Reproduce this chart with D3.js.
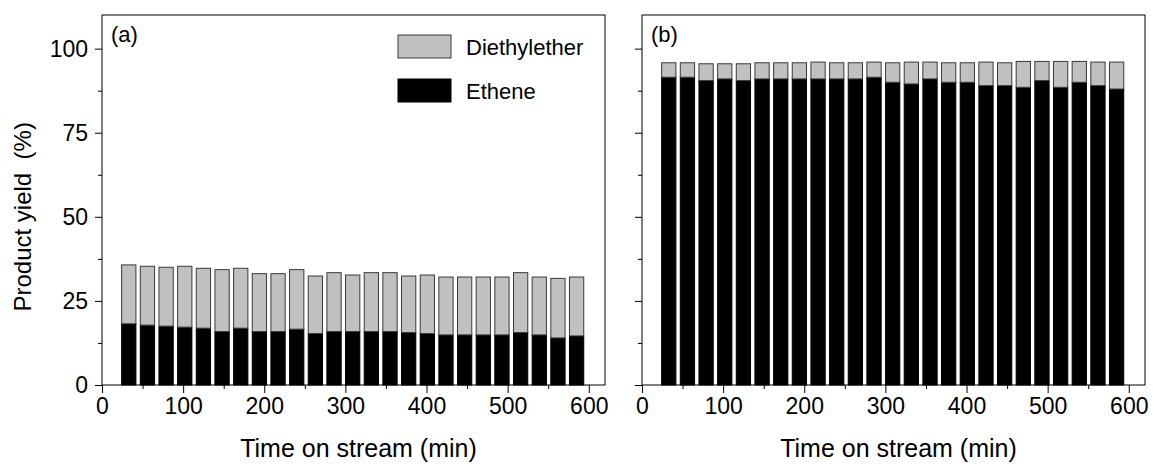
<!DOCTYPE html>
<meta charset="utf-8">
<style>
	body {
	  margin: 0;
	  background: #fff;
	  font-family: "Liberation Sans", Arial, sans-serif;
	}
</style>
<body>
	<script src="https://d3js.org/d3.v7.min.js"></script>
	<script>

		// time on stream (min), same for both panels
		var times = [33,56,79,102,125,148,171,194,217,240,263,286,309,332,355,378,401,424,447,470,493,516,539,562,585];

		// panel (a)
		var etheneA = [18.2,17.8,17.5,17.2,16.9,15.9,16.9,15.9,15.9,16.6,15.3,15.9,15.9,15.9,15.9,15.6,15.3,14.9,14.9,14.9,14.9,15.6,14.9,14.0,14.6];
		var etherA  = [17.5,17.5,17.5,18.1,17.8,18.4,17.8,17.2,17.2,17.7,17.1,17.5,16.8,17.5,17.5,16.8,17.4,17.2,17.2,17.2,17.2,17.8,17.2,17.7,17.5];

		// panel (b)
		var etheneB = [91.5,91.5,90.5,91,90.5,91,91,91,91,91,91,91.5,90,89.5,91,90,90,89,89,88.5,90.5,88.5,90,89,88];
		var etherB  = [4.3,4.3,5.0,4.5,5.0,4.8,4.8,4.8,5.0,4.8,4.8,4.5,5.8,6.5,5.0,5.8,5.8,7.0,6.8,7.7,5.7,7.7,6.2,7.0,8.0];

		var xTicks = [0,100,200,300,400,500,600];
		var xMinor = [50,150,250,350,450,550];
		var yTicks = [0,25,50,75,100];
		var yMinor = [12.5,37.5,62.5,87.5];

		var seriesNames = ["Diethylether","Ethene"];
		var panelLabels = ["(a)","(b)"];

		var width = 1153, height = 464;
		var plotTop = 15, plotBottom = 385;
		var plotWidth = 503;
		var panelLefts = [102, 642];
		var barWidth = 17.6; // in minutes

		var fontTick = 23;
		var fontTitle = 25;
		var fontYTitle = 24;
		var fontLegend = 22;

		var etherColor = "#c0c0c0";
		var etheneColor = "#000000";

		var svg = d3.select("body").append("svg")
			.attr("width", width)
			.attr("height", height)
			.style("display", "block");

		var y = d3.scaleLinear().domain([0, 110]).range([plotBottom, plotTop]);

		function drawPanel(idx, ethene, ether) {
			var left = panelLefts[idx];
			var x = d3.scaleLinear().domain([0, 620]).range([left, left + plotWidth]);
			var g = svg.append("g");

			var rows = times.map(function(t, i) { return {t: t, eth: ethene[i], dee: ether[i]}; });

			// ethene (bottom)
			g.selectAll("rect.ethene")
				.data(rows)
				.enter()
				.append("rect")
				.attr("class","ethene")
				.attr("x", function(d) { return x(d.t - barWidth/2); })
				.attr("width", function(d) { return x(d.t + barWidth/2) - x(d.t - barWidth/2); })
				.attr("y", function(d) { return y(d.eth); })
				.attr("height", function(d) { return y(0) - y(d.eth); })
				.attr("fill", etheneColor)
				.attr("stroke", "#000")
				.attr("stroke-width", 1);

			// diethylether stacked on top
			g.selectAll("rect.ether")
				.data(rows)
				.enter()
				.append("rect")
				.attr("class","ether")
				.attr("x", function(d) { return x(d.t - barWidth/2); })
				.attr("width", function(d) { return x(d.t + barWidth/2) - x(d.t - barWidth/2); })
				.attr("y", function(d) { return y(d.eth + d.dee); })
				.attr("height", function(d) { return y(d.eth) - y(d.eth + d.dee); })
				.attr("fill", etherColor)
				.attr("stroke", "#3a3a3a")
				.attr("stroke-width", 1);

			// frame
			g.append("rect")
				.attr("x", x(0))
				.attr("y", plotTop)
				.attr("width", plotWidth)
				.attr("height", plotBottom - plotTop)
				.attr("fill", "none")
				.attr("stroke", "#000")
				.attr("stroke-width", 1);

			// x axis
			var xAxis = d3.axisBottom(x).tickValues(xTicks).tickSize(8).tickPadding(5)
				.tickFormat(d3.format("d"));
			var gx = g.append("g")
				.attr("transform", "translate(0," + plotBottom + ")")
				.call(xAxis);
			gx.select(".domain").remove();
			gx.selectAll("text")
				.attr("font-size", fontTick + "px")
				.attr("font-family", "Liberation Sans, Arial, sans-serif")
				.attr("fill", "#000");
			g.append("g")
				.attr("transform", "translate(0," + plotBottom + ")")
				.call(d3.axisBottom(x).tickValues(xMinor).tickSize(4).tickFormat(""))
				.select(".domain").remove();

			// y axis
			var yAxis = d3.axisLeft(y).tickValues(yTicks).tickSize(7).tickPadding(7);
			if (idx == 1) yAxis.tickFormat("");
			var gy = g.append("g")
				.attr("transform", "translate(" + x(0) + ",0)")
				.call(yAxis);
			gy.select(".domain").remove();
			gy.selectAll("text")
				.attr("font-size", fontTick + "px")
				.attr("font-family", "Liberation Sans, Arial, sans-serif")
				.attr("fill", "#000");
			g.append("g")
				.attr("transform", "translate(" + x(0) + ",0)")
				.call(d3.axisLeft(y).tickValues(yMinor).tickSize(4).tickFormat(""))
				.select(".domain").remove();

			// x title
			g.append("text")
				.text("Time on stream (min)")
				.attr("x", left + plotWidth/2 + 5)
				.attr("y", 457)
				.attr("text-anchor", "middle")
				.attr("font-size", fontTitle + "px")
				.attr("fill", "#000");

			// panel label
			g.append("text")
				.text(panelLabels[idx])
				.attr("x", x(0) + 9)
				.attr("y", 42)
				.attr("font-size", fontLegend + "px")
				.attr("fill", "#000");
		}

		drawPanel(0, etheneA, etherA);
		drawPanel(1, etheneB, etherB);

		// y title
		svg.append("text")
			.text("Product yield\u00a0\u00a0(%)")
			.attr("transform", "translate(31," + y(50) + ") rotate(-90)")
			.attr("text-anchor", "middle")
			.attr("font-size", fontYTitle + "px")
			.attr("fill", "#000");

		// legend
		var legend = svg.selectAll("g.legend")
			.data(seriesNames)
			.enter()
			.append("g")
			.attr("class", "legend")
			.attr("transform", function(d, i) { return "translate(398," + (35 + i * 44) + ")"; });

		legend.append("rect")
			.attr("width", 53)
			.attr("height", 23)
			.attr("fill", function(d, i) { return i == 0 ? etherColor : etheneColor; })
			.attr("stroke", function(d, i) { return i == 0 ? "#3a3a3a" : "#000"; })
			.attr("stroke-width", 1);

		legend.append("text")
			.text(function(d) { return d; })
			.attr("x", 68)
			.attr("y", 12)
			.attr("dy", "0.35em")
			.attr("font-size", fontLegend + "px")
			.attr("fill", "#000");

	</script>
</body>
